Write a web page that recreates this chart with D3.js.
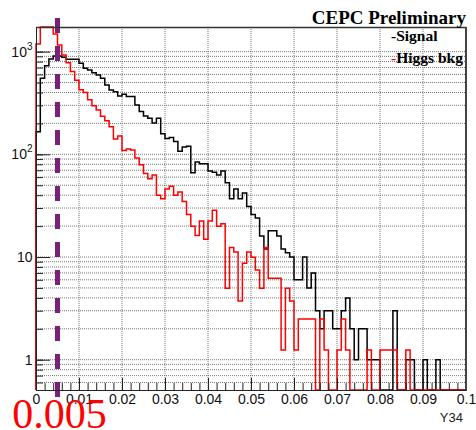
<!DOCTYPE html>
<html>
<head>
<meta charset="utf-8">
<script src="https://cdn.jsdelivr.net/npm/d3@7"></script>
<style>
  body { margin: 0; background: #fff; }
  .axis path, .axis line { stroke: #222; }
</style>
</head>
<body>
<div id="chart"></div>
<script>
// histogram contents: 100 bins of width 0.001 in Y34
var binLow = 0;
var binWidth = 0.001;

var signal = [
  166, 550, 730, 850, 905, 908, 880, 842, 842, 842,
  770, 688, 663, 624, 592, 550, 473, 423, 408, 370,
  384, 365, 365, 302, 262, 236, 224, 202, 224, 159,
  143, 146, 133, 107, 118, 120, 66, 84, 81, 81,
  69, 67, 63, 69, 53, 37, 46, 37, 42, 31,
  26, 24, 16, 12, 18, 18, 16, 12, 11, 10,
  6, 6, 10, 5, 7, 3, 2, 3, 3, 2,
  2, 3, 4, 2, 1, 2, 2, 1, 1, 1,
  0, 0, 0, 3, 0, 0, 1, 1, 0, 0,
  1, 0, 0, 1, 0, 0, 0, 0, 0, 0
];

var higgsBkg = [
  1188, 2000, 2000, 2000, 1486, 1161, 930, 780, 640, 528,
  425, 400, 340, 298, 271, 235, 212, 186, 141, 151,
  109, 113, 110, 92, 79, 65, 58, 63, 40, 37,
  46, 49, 40, 43, 34.8, 26, 19.9, 16.2, 22.4, 14.9,
  22.4, 28.6, 19.9, 21.1, 4.97, 12.4, 11.2, 3.73, 8.7, 11.2,
  9.94, 7.46, 4.97, 12.4, 6.2, 6.2, 6.2, 1.24, 4.97, 3.73,
  1.24, 2.49, 2.49, 2.49, 2.49, 0, 2.49, 1.24, 0, 0,
  1.24, 2.49, 1.24, 0, 0, 0, 0, 1.24, 0, 0,
  1.24, 1.24, 1.24, 1.24, 0, 0, 1.24, 0, 0, 0,
  0, 0, 0, 0, 0, 0, 0, 0, 0, 0
];

var xTickValues = [0, 0.01, 0.02, 0.03, 0.04, 0.05, 0.06, 0.07, 0.08, 0.09, 0.1];
var xTickLabels = ["0", "0.01", "0.02", "0.03", "0.04", "0.05", "0.06", "0.07", "0.08", "0.09", "0.1"];
var yTickValues = [1, 10, 100, 1000];
var yTickBase = ["1", "10", "10", "10"];
var yTickExp = ["", "", "2", "3"];

var seriesNames = ["Signal", "Higgs bkg"];
var seriesColors = ["#000000", "#ff0000"];
var cutValue = 0.005;
var cutLabel = "0.005";
var titleText = "CEPC Preliminary";
var xTitle = "Y34";

var svgWidth = 476;
var svgHeight = 430;

var margin = {
  top: 27,
  right: 10,
  bottom: 40,
  left: 36
};

var width = svgWidth - margin.left - margin.right;
var height = svgHeight - margin.top - margin.bottom;

var svg = d3.select('#chart')
  .append('svg')
  .attr('width', svgWidth)
  .attr('height', svgHeight);

var chartGroup = svg.append('g')
  .attr('transform', `translate(${margin.left}, ${margin.top})`);

var yMin = 0.507;

var xScale = d3.scaleLinear()
  .domain([0, 0.1])
  .range([0, width]);

var yScale = d3.scaleLog()
  .domain([yMin, 1738])
  .range([height, 0])
  .clamp(true);

// grid (ROOT dotted grid on every log tick)
var grid = chartGroup.append('g');
grid.selectAll('line.gy')
  .data(yScale.ticks())
  .enter().append('line')
  .attr('x1', 0).attr('x2', width)
  .attr('y1', d => yScale(d)).attr('y2', d => yScale(d))
  .attr('stroke', '#777')
  .attr('stroke-width', 1)
  .attr('stroke-dasharray', '1,1');

grid.selectAll('line.gx')
  .data(xTickValues.slice(1, -1))
  .enter().append('line')
  .attr('x1', d => xScale(d)).attr('x2', d => xScale(d))
  .attr('y1', 0).attr('y2', height)
  .attr('stroke', '#777')
  .attr('stroke-width', 1)
  .attr('stroke-dasharray', '1,1');

// step histograms
function histPoints(vals) {
  var pts = [[binLow, 0]];
  vals.forEach(function(v, i) {
    var lo = binLow + i * binWidth;
    pts.push([lo, v], [lo + binWidth, v]);
  });
  pts.push([binLow + vals.length * binWidth, 0]);
  return pts;
}

var histLine = d3.line()
  .x(d => xScale(d[0]))
  .y(d => yScale(Math.max(d[1], yMin)));

[signal, higgsBkg].forEach(function(vals, k) {
  chartGroup.append('path')
    .attr('d', histLine(histPoints(vals)))
    .attr('fill', 'none')
    .attr('stroke', seriesColors[k])
    .attr('stroke-width', 1.5)
    .attr('stroke-linejoin', 'miter');
});

// cut line
chartGroup.append('line')
  .attr('x1', xScale(cutValue)).attr('x2', xScale(cutValue))
  .attr('y1', -9).attr('y2', height + 8)
  .attr('stroke', '#7a1f7a')
  .attr('stroke-width', 5)
  .attr('stroke-dasharray', '15,13');

// axes, ticks pointing inward like ROOT
var bottomAxis = d3.axisBottom(xScale)
  .tickValues(xTickValues)
  .tickSize(-12)
  .tickPadding(4)
  .tickFormat((d, i) => xTickLabels[i]);

var minorX = d3.axisBottom(xScale)
  .tickValues(d3.range(0, 0.1001, 0.002))
  .tickSize(-7)
  .tickFormat('');

var xAxisG = chartGroup.append('g')
  .attr('class', 'axis')
  .attr('transform', `translate(0, ${height})`)
  .call(bottomAxis);
chartGroup.append('g')
  .attr('class', 'axis')
  .attr('transform', `translate(0, ${height})`)
  .call(minorX);

xAxisG.selectAll('text')
  .attr('font-family', 'Liberation Sans, Arial, sans-serif')
  .attr('font-size', 14)
  .attr('fill', '#111');

var leftAxis = d3.axisLeft(yScale)
  .tickValues(yTickValues)
  .tickSize(-14)
  .tickFormat('');
var minorY = d3.axisLeft(yScale)
  .tickValues(yScale.ticks())
  .tickSize(-7)
  .tickFormat('');

chartGroup.append('g').attr('class', 'axis').call(leftAxis);
chartGroup.append('g').attr('class', 'axis').call(minorY);
chartGroup.selectAll('.axis .domain').attr('stroke', '#111');

var yLabels = chartGroup.append('g')
  .attr('font-family', 'Liberation Sans, Arial, sans-serif')
  .attr('fill', '#111')
  .attr('text-anchor', 'end');
yTickValues.forEach(function(v, i) {
  var t = yLabels.append('text')
    .attr('x', -3.5)
    .attr('y', yScale(v) + 5);
  t.append('tspan').attr('font-size', 14).text(yTickBase[i]);
  if (yTickExp[i]) {
    t.append('tspan').attr('font-size', 10).attr('dy', -7).text(yTickExp[i]);
  }
});

// frame top/right
chartGroup.append('path')
  .attr('d', `M0,0.5H${width}`)
  .attr('fill', 'none')
  .attr('stroke', '#333')
  .attr('stroke-width', 1.5);
chartGroup.append('path')
  .attr('d', `M${width},0V${height}`)
  .attr('fill', 'none')
  .attr('stroke', '#444')
  .attr('stroke-width', 2);

// x title
svg.append('text')
  .attr('x', margin.left + width - 3)
  .attr('y', 422)
  .attr('text-anchor', 'end')
  .attr('font-family', 'Liberation Sans, Arial, sans-serif')
  .attr('font-size', 13)
  .attr('fill', '#222')
  .text(xTitle);

// title
svg.append('text')
  .attr('x', margin.left + width)
  .attr('y', 24)
  .attr('text-anchor', 'end')
  .attr('font-family', 'Liberation Serif, Times New Roman, serif')
  .attr('font-weight', 'bold')
  .attr('font-size', 19)
  .text(titleText);

// legend
var legend = svg.append('g')
  .attr('font-family', 'Liberation Serif, Times New Roman, serif')
  .attr('font-weight', 'bold')
  .attr('font-size', 15.5);
seriesNames.forEach(function(name, i) {
  var t = legend.append('text')
    .attr('x', 391)
    .attr('y', 41 + i * 21.5);
  t.append('tspan').attr('fill', seriesColors[i]).text('-');
  t.append('tspan').attr('fill', '#000').text(name);
});

// big cut label
svg.append('text')
  .attr('x', margin.left + xScale(cutValue) + 2)
  .attr('y', 428)
  .attr('text-anchor', 'middle')
  .attr('font-family', 'Liberation Serif, Times New Roman, serif')
  .attr('font-size', 42)
  .attr('fill', '#ff0000')
  .text(cutLabel);
</script>
</body>
</html>
